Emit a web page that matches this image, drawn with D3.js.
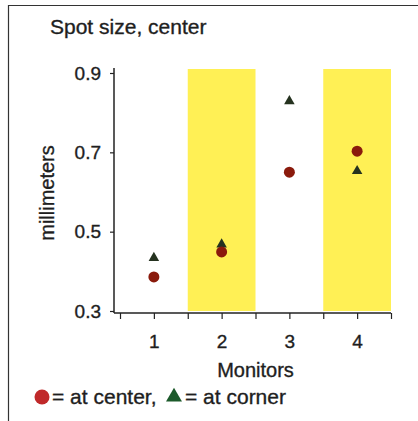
<!DOCTYPE html>
<html>
<head>
<meta charset="utf-8">
<script src="https://cdn.jsdelivr.net/npm/d3@7"></script>
<style>
  html, body { margin: 0; padding: 0; background: #fff; }
  svg { display: block; }
  text { font-family: "Liberation Sans", Arial, Helvetica, sans-serif; fill: #1e1e1e; stroke: #1e1e1e; stroke-width: 0.35px; }
</style>
</head>
<body>
<svg id="chart" width="418" height="421"></svg>
<script>
// Spot size per monitor, in millimeters
const monitors = [1, 2, 3, 4];
const centerSpot = [0.386, 0.449, 0.65, 0.703];
const cornerSpot = [0.434, 0.468, 0.829, 0.653];
const yTicks = [0.3, 0.5, 0.7, 0.9];
const shadedMonitors = [2, 4];

const svg = d3.select("#chart");

// Outer frame: rule across the top and down the left side
svg.append("path")
  .attr("d", "M8.5,421 V5.5 H418")
  .attr("fill", "none").attr("stroke", "#333").attr("stroke-width", 1.2);

const x = d3.scaleLinear().domain([0.5, 4.5]).range([120, 391]);
const y = d3.scaleLinear().domain([0.3, 0.9]).range([311, 73]);
const axisX0 = 114, axisY0 = 313;

// Alternate shaded columns
svg.append("g").selectAll("rect")
  .data(shadedMonitors)
  .join("rect")
  .attr("x", d => x(d - 0.5))
  .attr("width", d => x(d + 0.5) - x(d - 0.5))
  .attr("y", 69)
  .attr("height", axisY0 - 2 - 69)
  .attr("fill", "#fff055");

// Y axis
const yAxis = d3.axisLeft(y).tickValues(yTicks).tickSize(4).tickPadding(9)
  .tickFormat(d3.format(".1f"));
const gy = svg.append("g").attr("transform", `translate(${axisX0},0)`).call(yAxis);
gy.select(".domain").attr("d", `M0,68 V${axisY0}`).attr("stroke", "#222").attr("stroke-width", 1.5);
gy.selectAll(".tick line").attr("stroke", "#222").attr("stroke-width", 1.2);
gy.selectAll(".tick text").style("font-size", "19px").attr("fill", "#1e1e1e")
  .style("font-family", "'Liberation Sans', Arial, sans-serif");

// X axis: ticks at column centers and column edges
const xTickVals = d3.range(0.5, 4.51, 0.5);
const xAxis = d3.axisBottom(x).tickValues(xTickVals).tickSize(6).tickPadding(16)
  .tickFormat(d => Number.isInteger(d) ? String(d) : "");
const gx = svg.append("g").attr("transform", `translate(0,${axisY0})`).call(xAxis);
gx.select(".domain").attr("d", `M${axisX0},0 H${x(4.5)}`).attr("stroke", "#222").attr("stroke-width", 1.5);
gx.selectAll(".tick line").attr("stroke", "#222").attr("stroke-width", 1.2);
gx.selectAll(".tick text").style("font-size", "19px").attr("fill", "#1e1e1e")
  .style("font-family", "'Liberation Sans', Arial, sans-serif");

// Title and axis titles
svg.append("text").attr("x", 50).attr("y", 34)
  .style("font-size", "21px").text("Spot size, center");
svg.append("text").attr("x", x(2.5)).attr("y", 377)
  .attr("text-anchor", "middle").style("font-size", "20px").text("Monitors");
svg.append("text")
  .attr("transform", "translate(54,193) rotate(-90)")
  .attr("text-anchor", "middle").style("font-size", "20px").text("millimeters");

// Markers
const tri = d3.symbol().type(d3.symbolTriangle);

svg.append("g").selectAll("path")
  .data(monitors.map((m, i) => ({ m, v: cornerSpot[i] })))
  .join("path")
  .attr("d", tri.size(48)())
  .attr("transform", d => `translate(${x(d.m)},${y(d.v)})`)
  .attr("fill", "#25321f");

svg.append("g").selectAll("circle")
  .data(monitors.map((m, i) => ({ m, v: centerSpot[i] })))
  .join("circle")
  .attr("cx", d => x(d.m))
  .attr("cy", d => y(d.v))
  .attr("r", 5.5)
  .attr("fill", "#8a1a0c");

// Legend
const lg = svg.append("g").attr("transform", "translate(0,397)");
lg.append("circle").attr("cx", 42).attr("cy", 0).attr("r", 7.5).attr("fill", "#c0292a");
lg.append("text").attr("x", 52).attr("y", 7).style("font-size", "21px").text("= at center,");
lg.append("path").attr("d", tri.size(110)()).attr("transform", "translate(174,0)").attr("fill", "#1c5a2b");
lg.append("text").attr("x", 185).attr("y", 7).style("font-size", "21px").text("= at corner");
</script>
</body>
</html>
